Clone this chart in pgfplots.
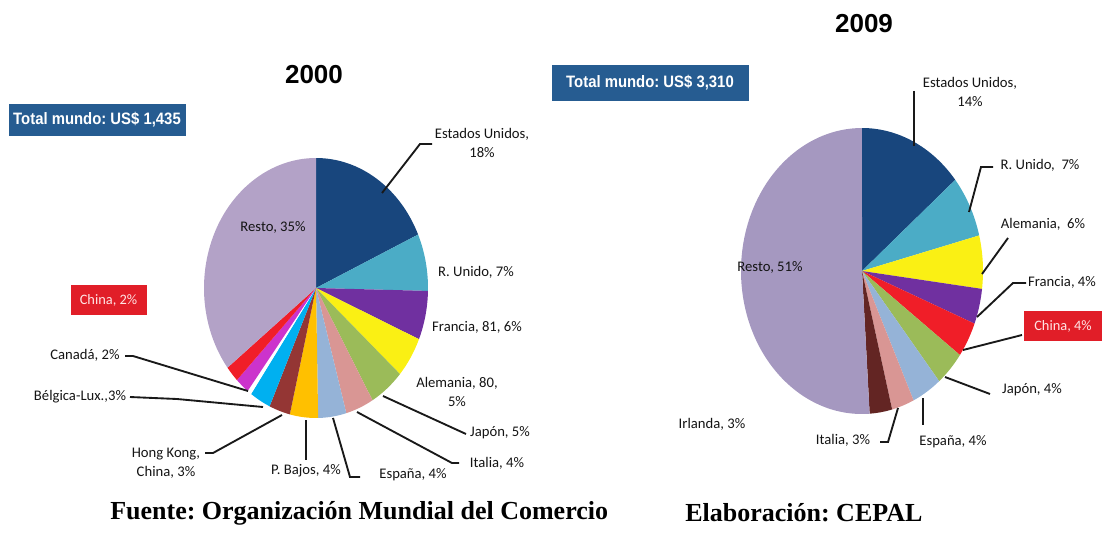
\documentclass[border=0pt]{standalone}
\usepackage{fontspec}
\setmainfont{Carlito}
\newfontfamily\boxfont[FakeStretch=0.9]{Liberation Sans}
\newfontfamily\titlefont{Liberation Sans}
\newfontfamily\timesf{Liberation Serif}
\usepackage{pgfplots}
\usepackage{pgfplotstable}
\pgfplotsset{compat=1.18}
\frenchspacing

\definecolor{cEU}{RGB}{24,70,125}
\definecolor{cRU}{RGB}{75,172,198}
\definecolor{cFR}{RGB}{112,48,160}
\definecolor{cAL}{RGB}{250,240,20}
\definecolor{cJA}{RGB}{155,187,89}
\definecolor{cIT}{RGB}{217,150,148}
\definecolor{cES}{RGB}{149,179,215}
\definecolor{cPB}{RGB}{255,192,0}
\definecolor{cHK}{RGB}{148,54,52}
\definecolor{cBE}{RGB}{0,176,240}
\definecolor{cCA}{RGB}{204,51,204}
\definecolor{cCH}{RGB}{240,30,40}
\definecolor{cIR}{RGB}{99,37,35}
\definecolor{cRestoA}{RGB}{179,162,199}
\definecolor{cRestoB}{RGB}{165,152,192}
\definecolor{boxblue}{RGB}{38,92,145}
\definecolor{boxred}{RGB}{225,30,40}

\tikzset{
  lbl/.style={font=\fontsize{11}{14.5}\selectfont, align=center, text=black!92, inner sep=0pt},
  lead/.style={line width=1.4pt, black!90},
}

% 2000, clockwise from 12 o'clock
\pgfplotstableread{
value color
18   cEU
7    cRU
6    cFR
5    cAL
5    cJA
4    cIT
4    cES
4    cPB
3    cHK
3    cBE
0.6  white
2    cCA
2    cCH
35   cRestoA
}\dataA

% 2009
\pgfplotstableread{
value color
14   cEU
7    cRU
6    cAL
4    cFR
4    cCH
4    cJA
4    cES
3    cIT
3    cIR
51   cRestoB
}\dataB

% #1 table, #2 cx, #3 cy, #4 rx, #5 ry, #6 total (pixels of the reference)
\newcommand\drawpie[6]{%
  \pgfplotstablegetrowsof{#1}%
  \pgfmathtruncatemacro\nrows{\pgfplotsretval-1}%
  \xdef\cumangle{90}%
  \pgfplotsforeachungrouped \i in {0,...,\nrows}{%
    \pgfplotstablegetelem{\i}{value}\of{#1}\let\val\pgfplotsretval
    \pgfplotstablegetelem{\i}{color}\of{#1}\let\col\pgfplotsretval
    \pgfmathsetmacro\aend{\cumangle-\val/#6*360}%
    \pgfmathsetmacro\px{#2+#4*cos(\cumangle)}%
    \pgfmathsetmacro\py{#3-#5*sin(\cumangle)}%
    \fill[fill=\col] (axis cs:#2,#3) -- (axis cs:\px,\py)
      arc[start angle=\cumangle, end angle=\aend, x radius=#4*0.75pt, y radius=#5*0.75pt] -- cycle;
    \xdef\cumangle{\aend}%
  }%
}

\begin{document}
\begin{tikzpicture}
\begin{axis}[
    x=0.75pt, y=0.75pt,
    xmin=0, xmax=1113, ymin=0, ymax=535,
    y dir=reverse,
    hide axis, clip=false,
]
\pgfplotsextra{%
  \path (axis cs:0,0) rectangle (axis cs:1113,535);
  \drawpie{\dataA}{316}{288}{112}{130}{98.6}
  \drawpie{\dataB}{862}{271}{121}{143}{100}
}

% ---- 2000 ----
\node[font=\titlefont\bfseries\fontsize{19.5}{22}\selectfont] at (axis cs:314,75) {2000};
\node[fill=boxblue, text=white, font=\boxfont\bfseries\fontsize{12.4}{14}\selectfont,
      minimum width=177*0.75pt, minimum height=32*0.75pt, inner sep=0pt] at (axis cs:97,119.5) {Total mundo: US\$ 1,435};
\node[fill=boxred, text=white!90!red, font=\fontsize{10.8}{13}\selectfont,
      minimum width=76*0.75pt, minimum height=30*0.75pt, inner sep=0pt] at (axis cs:108.5,300) {China, 2\%};

\node[lbl] at (axis cs:273,227) {Resto, 35\%};
\node[lbl] at (axis cs:482,143) {Estados Unidos,\\18\%};
\node[lbl] at (axis cs:476,272) {R. Unido, 7\%};
\node[lbl] at (axis cs:477,327) {Francia, 81, 6\%};
\node[lbl] at (axis cs:457,392) {Alemania, 80,\\5\%};
\node[lbl] at (axis cs:500,433) {Japón, 5\%};
\node[lbl] at (axis cs:497,463) {Italia, 4\%};
\node[lbl] at (axis cs:413,475) {España, 4\%};
\node[lbl] at (axis cs:306,471) {P. Bajos, 4\%};
\node[lbl] at (axis cs:166,463) {Hong Kong,\\China, 3\%};
\node[lbl] at (axis cs:80,397) {Bélgica-Lux.,3\%};
\node[lbl] at (axis cs:85,355) {Canadá, 2\%};

\draw[lead] (axis cs:382,193) -- (axis cs:420,144) -- (axis cs:432,144);
\draw[lead] (axis cs:383,396) -- (axis cs:466,434);
\draw[lead] (axis cs:357,412) -- (axis cs:452,463) -- (axis cs:459,463);
\draw[lead] (axis cs:333,418) -- (axis cs:350,477) -- (axis cs:360,477);
\draw[lead] (axis cs:306,420) -- (axis cs:306,460);
\draw[lead] (axis cs:205,453) -- (axis cs:213,453) -- (axis cs:282,415);
\draw[lead] (axis cs:130,397) -- (axis cs:177,399) -- (axis cs:263,407);
\draw[lead] (axis cs:125,356) -- (axis cs:133,356) -- (axis cs:248,391);

% ---- 2009 ----
\node[font=\titlefont\bfseries\fontsize{19.5}{22}\selectfont] at (axis cs:864,24) {2009};
\node[fill=boxblue, text=white, font=\boxfont\bfseries\fontsize{12.4}{14}\selectfont,
      minimum width=197*0.75pt, minimum height=35*0.75pt, inner sep=0pt] at (axis cs:650,83) {Total mundo: US\$ 3,310};
\node[fill=boxred, text=white!90!red, font=\fontsize{10.8}{13}\selectfont,
      minimum width=78*0.75pt, minimum height=30*0.75pt, inner sep=0pt] at (axis cs:1063,326) {China, 4\%};

\node[lbl] at (axis cs:770,267) {Resto, 51\%};
\node[lbl] at (axis cs:970,92) {Estados Unidos,\\14\%};
\node[lbl] at (axis cs:1040,165) {R. Unido,~ 7\%};
\node[lbl] at (axis cs:1043,224) {Alemania,~ 6\%};
\node[lbl] at (axis cs:1062,282) {Francia, 4\%};
\node[lbl] at (axis cs:1032,390) {Japón, 4\%};
\node[lbl] at (axis cs:953,442) {España, 4\%};
\node[lbl] at (axis cs:843,440) {Italia, 3\%};
\node[lbl] at (axis cs:712,424) {Irlanda, 3\%};

\draw[lead] (axis cs:914,91) -- (axis cs:914,146);
\draw[lead] (axis cs:969,212) -- (axis cs:981,167) -- (axis cs:993,167);
\draw[lead] (axis cs:1008,238) -- (axis cs:982,274);
\draw[lead] (axis cs:977,317) -- (axis cs:1013,283) -- (axis cs:1026,283);
\draw[lead] (axis cs:963,350) -- (axis cs:1022,335);
\draw[lead] (axis cs:945,377) -- (axis cs:990,394);
\draw[lead] (axis cs:923,398) -- (axis cs:923,425);
\draw[lead] (axis cs:898,408) -- (axis cs:888,442) -- (axis cs:880,442);

% ---- footer ----
\node[anchor=west, font=\timesf\bfseries\fontsize{19.5}{22}\selectfont, inner sep=0pt] at (axis cs:110,513) {Fuente: Organización Mundial del Comercio};
\node[anchor=west, font=\timesf\bfseries\fontsize{19.5}{22}\selectfont, inner sep=0pt] at (axis cs:685,513) {Elaboración: CEPAL};
\end{axis}
\end{tikzpicture}
\end{document}
